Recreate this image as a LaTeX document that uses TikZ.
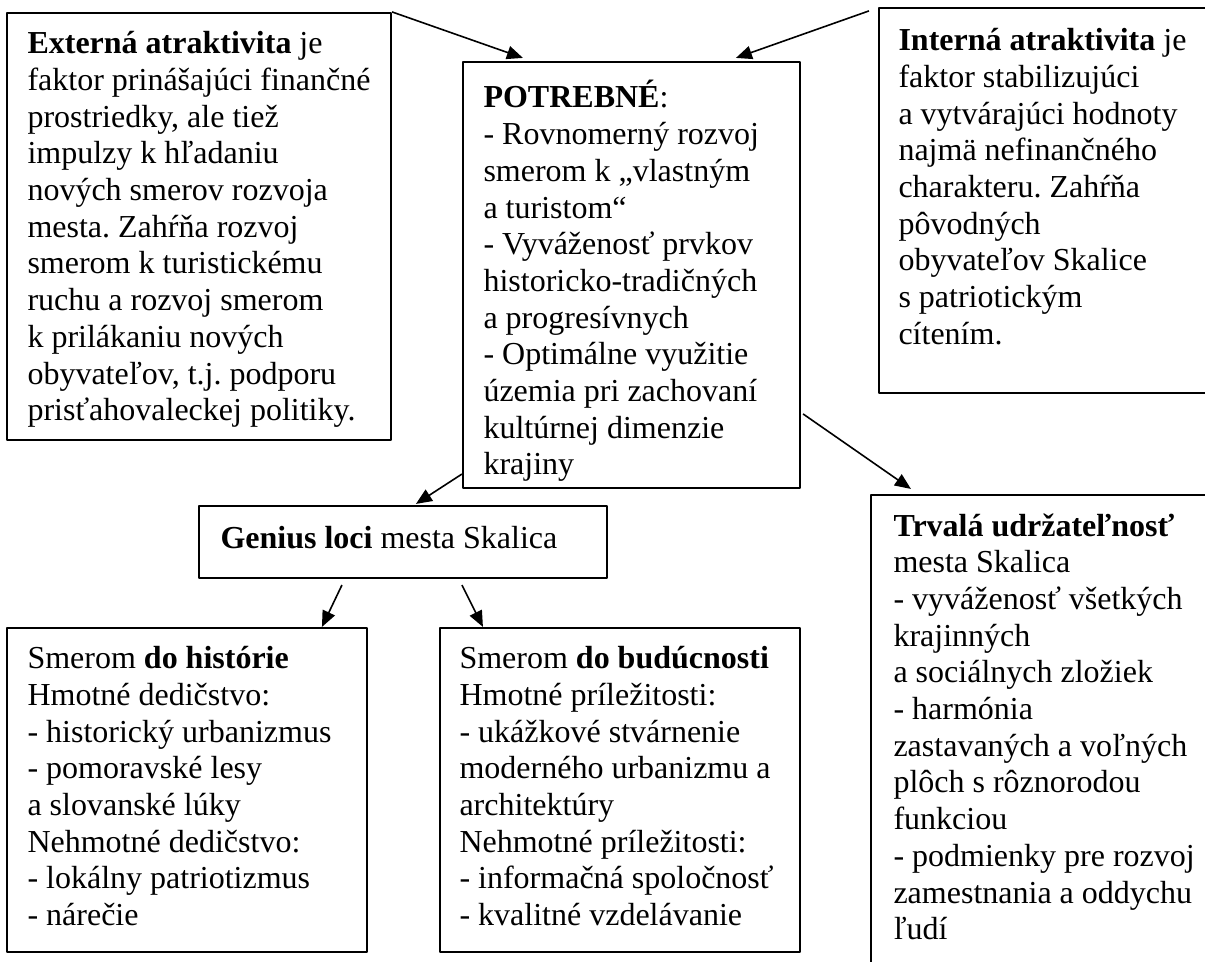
\documentclass[tikz,border=0pt]{standalone}
\usepackage{fontspec}
\setmainfont{Liberation Serif}
\usetikzlibrary{arrows.meta,fit,calc}
\frenchspacing
\begin{document}
\begin{tikzpicture}[x=0.375pt,y=-0.375pt,line join=round,
	ramec/.style={draw,line width=0.8pt,inner sep=0pt},
	obsah/.style={anchor=north west,inner sep=0pt,align=left,font=\fontsize{12}{13.76}\selectfont},
	sipka/.style={-{Triangle[length=6pt,width=5pt]},line width=0.6pt}]
	\useasboundingbox (0,0) rectangle (1205,962);
	% Vẽ các rámce
	\node[ramec,fit={(7,13) (391,440)}] (ext) {};
	\node[ramec,fit={(463,62) (800,488)}] (pot) {};
	\node[ramec,fit={(879,8) (1215,393)}] (int) {};
	\node[ramec,fit={(199,506) (607,578)}] (gen) {};
	\node[ramec,fit={(7,628) (367,952)}] (hist) {};
	\node[ramec,fit={(440,628) (800,952)}] (fut) {};
	\node[ramec,fit={(871,495) (1215,975)}] (trv) {};
	% Texty
	\node[obsah] (extT) at (27,31) {\textbf{Externá atraktivita} je\\faktor prinášajúci finančné\\prostriedky, ale tiež\\impulzy k hľadaniu\\nových smerov rozvoja\\mesta. Zahŕňa rozvoj\\smerom k turistickému\\ruchu a rozvoj smerom\\k prilákaniu nových\\obyvateľov, t.j. podporu\\prisťahovaleckej politiky.};
	\node[obsah] (potT) at (483,80) {\textbf{POTREBNÉ}:\\- Rovnomerný rozvoj\\smerom k „vlastným\\a turistom“\\- Vyváženosť prvkov\\historicko-tradičných\\a progresívnych\\- Optimálne využitie\\územia pri zachovaní\\kultúrnej dimenzie\\krajiny};
	\node[obsah] (intT) at (898,28) {\textbf{Interná atraktivita} je\\faktor stabilizujúci\\a vytvárajúci hodnoty\\najmä nefinančného\\charakteru. Zahŕňa\\pôvodných\\obyvateľov Skalice\\s patriotickým\\cítením.};
	\node[obsah] (genT) at (220,526) {\textbf{Genius loci} mesta Skalica};
	\node[obsah] (histT) at (27,646) {Smerom \textbf{do histórie}\\Hmotné dedičstvo:\\- historický urbanizmus\\- pomoravské lesy\\a slovanské lúky\\Nehmotné dedičstvo:\\- lokálny patriotizmus\\- nárečie};
	\node[obsah] (futT) at (459,646) {Smerom \textbf{do budúcnosti}\\Hmotné príležitosti:\\- ukážkové stvárnenie\\moderného urbanizmu a\\architektúry\\Nehmotné príležitosti:\\- informačná spoločnosť\\- kvalitné vzdelávanie};
	\node[obsah] (trvT) at (893,513) {\textbf{Trvalá udržateľnosť}\\mesta Skalica\\- vyváženosť všetkých\\krajinných\\a sociálnych zložiek\\- harmónia\\zastavaných a voľných\\plôch s rôznorodou\\funkciou\\- podmienky pre rozvoj\\zamestnania a oddychu\\ľudí};
	% Vẽ šípky
	\draw[sipka] (ext.north east) -- ($(pot.north west)+(61,-3)$);
	\draw[sipka] ($(int.north west)+(-9,4)$) -- ($(pot.north west)+(274,-3)$);
	\draw[sipka] ($(pot.north east)+(2,353)$) -- ($(trv.north west)+(41,-5)$);
	\draw[sipka] ($(pot.south west)+(0,-15)$) -- ($(gen.north west)+(218,-1)$);
	\draw[sipka] ($(gen.south west)+(144,6)$) -- ($(hist.north west)+(316,0)$);
	\draw[sipka] ($(gen.south west)+(264,6)$) -- ($(fut.north west)+(44,0)$);
\end{tikzpicture}
\end{document}
